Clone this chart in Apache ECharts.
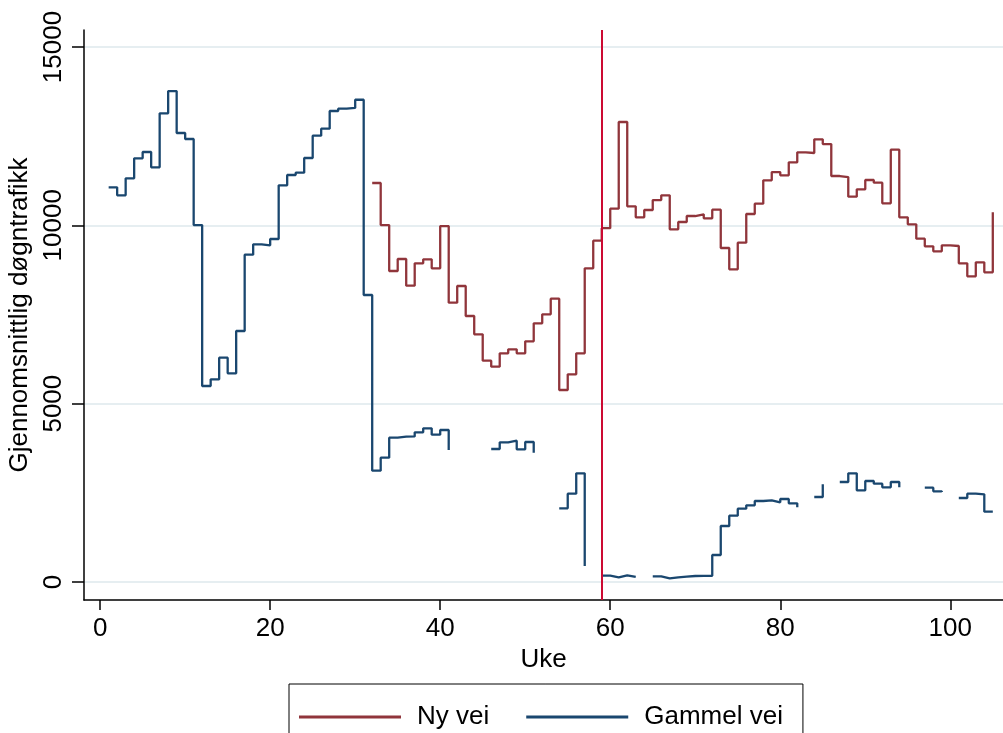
<!DOCTYPE html>
<html>
<head>
    <meta charset="utf-8">
    <script src="https://cdn.jsdelivr.net/npm/echarts@6/dist/echarts.min.js"></script>
    <style>
        html, body { margin: 0; padding: 0; background: #fff; }
    </style>
</head>
<body>
    <div id="main" style="width: 1003px;height:733px;"></div>
    <script type="text/javascript">
    // week numbers run 1..105; null = no measurement that week
    var nyVei = [
        null, null, null, null, null, null, null, null, null, null,
        null, null, null, null, null, null, null, null, null, null,
        null, null, null, null, null, null, null, null, null, null,
        null, 11186, 10008, 8719, 9055, 8308, 8934, 9046, 8794, 9980,
        7831, 8298, 7457, 6944, 6205, 6037, 6411, 6523, 6411, 6747,
        7252, 7504, 7943, 5383, 5822, 6411, 8794, 9568, 9920, 10466,
        12896, 10532, 10224, 10429, 10709, 10840, 9887, 10093, 10261, 10308,
        10196, 10438, 9364, 8766, 9513, 10317, 10606, 11261, 11494, 11401,
        11766, 12046, 12027, 12411, 12279, 11382, 11354, 10802, 11008, 11270,
        11195, 10616, 12120, 10224, 10028, 9625, 9411, 9271, 9439, 9420,
        8934, 8570, 8963, 8682, 10364
    ];
    var gammelVei = [
        11065, 10841, 11318, 11879, 12055, 11626, 13139, 13765, 12588, 12420,
        10008, 5495, 5683, 6289, 5851, 7037, 9176, 9467, 9439, 9616,
        11121, 11410, 11476, 11887, 12513, 12709, 13205, 13270, 13290, 13521,
        8046, 3120, 3485, 4046, 4074, 4080, 4196, 4308, 4130, 4261,
        3700, null, null, null, null, 3729, 3916, 3962, 3720, 3925,
        3626, null, null, 2066, 2476, 3047, 448, null, 177, 131,
        187, 140, 140, null, 159, 103, 131, 150, 168, 170,
        172, 757, 1570, 1860, 2056, 2150, 2271, 2290, 2234, 2327,
        2206, 2094, null, 2383, 2739, null, 2803, 3047, 2570, 2831,
        2757, 2654, 2803, 2654, null, null, 2645, 2542, 2520, null,
        2355, 2476, 2458, 1971, 1971
    ];
    var xTicks = [0, 20, 40, 60, 80, 100];
    var yTicks = [0, 5000, 10000, 15000];
    var aapningsUke = 59;

    // missing weeks get no x either, so the stairstep stops at the last real week
    function toPairs(arr) {
        return arr.map(function (v, i) { return v === null ? ['-', '-'] : [i + 1, v]; });
    }

    var font = "'Liberation Sans', Arial, sans-serif";
    myChart = echarts.init(document.getElementById('main'), null, {renderer: 'canvas'});

    myChart.setOption(option = {
        animation: false,
        backgroundColor: '#fff',
        grid: {
            left: 84, right: 0, top: 30, bottom: 133,
            containLabel: false,
            outerBoundsMode: 'none'
        },
        legend: {
            data: ['Ny vei', 'Gammel vei'],
            left: 289, top: 684,
            orient: 'horizontal',
            icon: 'rect',
            itemWidth: 102, itemHeight: 3,
            itemGap: 37,
            padding: [20, 20, 40, 10],
            borderColor: '#000', borderWidth: 1,
            textStyle: {
                fontFamily: font, fontSize: 26, color: '#000',
                padding: [0, 0, 0, 11]
            }
        },
        xAxis: {
            type: 'value',
            min: -1.9, max: 106.2,
            name: 'Uke',
            nameLocation: 'middle',
            nameGap: 40,
            nameTextStyle: {fontFamily: font, fontSize: 26, color: '#000'},
            axisLine: {onZero: false, lineStyle: {color: '#000', width: 1.5}},
            axisTick: {customValues: xTicks, length: 10, lineStyle: {color: '#000', width: 1.5}},
            axisLabel: {customValues: xTicks, margin: 16, fontFamily: font, fontSize: 26, color: '#000'},
            splitLine: {show: false}
        },
        yAxis: {
            type: 'value',
            min: -505, max: 15476,
            name: 'Gjennomsnittlig døgntrafikk',
            nameLocation: 'middle',
            nameRotate: 90,
            nameGap: 48,
            nameTextStyle: {fontFamily: font, fontSize: 26, color: '#000'},
            axisLine: {show: true, onZero: false, lineStyle: {color: '#000', width: 1.5}},
            axisTick: {show: true, customValues: yTicks, length: 12, lineStyle: {color: '#000', width: 1.5}},
            axisLabel: {
                customValues: yTicks, rotate: 90, margin: 17,
                fontFamily: font, fontSize: 26, color: '#000',
                formatter: function (v) { return String(v); }
            },
            splitLine: {show: true, lineStyle: {color: '#e6eef1', width: 2}}
        },
        series: [
            {
                name: 'Ny vei',
                type: 'line',
                step: 'end',
                data: toPairs(nyVei),
                showSymbol: false,
                connectNulls: false,
                color: '#90353b',
                lineStyle: {width: 2.3, color: '#90353b'},
                markLine: {
                    silent: true,
                    symbol: 'none',
                    label: {show: false},
                    lineStyle: {color: '#cc0a32', width: 2, type: 'solid'},
                    data: [{xAxis: aapningsUke}]
                }
            },
            {
                name: 'Gammel vei',
                type: 'line',
                step: 'end',
                data: toPairs(gammelVei),
                showSymbol: false,
                connectNulls: false,
                color: '#1a476f',
                lineStyle: {width: 2.3, color: '#1a476f'}
            }
        ]
    });
    </script>
</body>
</html>
